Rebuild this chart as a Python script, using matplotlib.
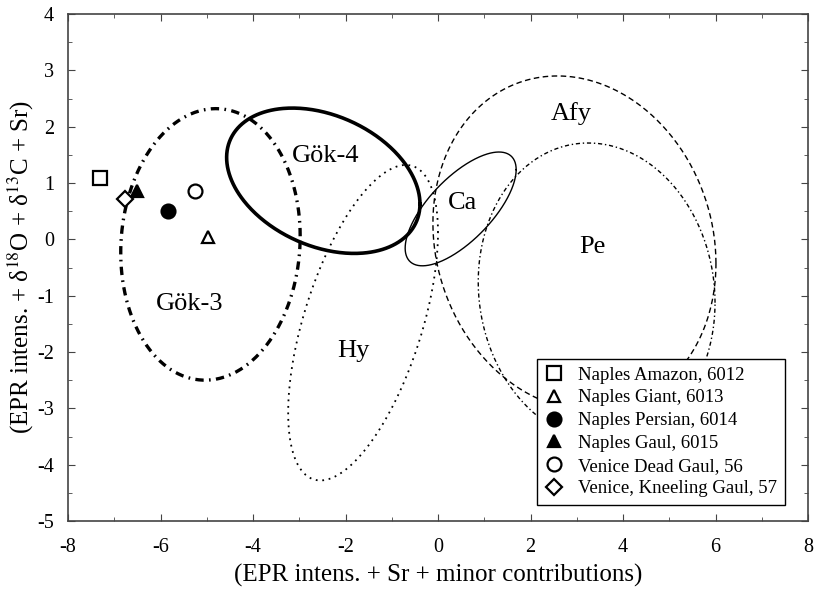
import numpy as np
import matplotlib
matplotlib.use('Agg')
import matplotlib.pyplot as plt
from matplotlib.ticker import MultipleLocator

plt.rcParams['font.family'] = ['Liberation Serif', 'DejaVu Serif']
plt.rcParams['mathtext.fontset'] = 'stix'
plt.rcParams['axes.unicode_minus'] = False

# sample points
names = ["Naples Amazon, 6012", "Naples Giant, 6013", "Naples Persian, 6014",
         "Naples Gaul, 6015", "Venice Dead Gaul, 56", "Venice, Kneeling Gaul, 57"]
pts_x = [-7.31, -4.97, -5.84, -6.50, -5.25, -6.77]
pts_y = [1.09, 0.04, 0.50, 0.86, 0.86, 0.72]
markers = ['s', '^', 'o', '^', 'o', 'D']
filled = [False, False, True, True, False, False]
msizes = [10, 9, 10, 9, 10, 8]

# quarry fields: centre, half extents in x / y, correlation
fields = ["Gök-3", "Gök-4", "Ca", "Hy", "Afy", "Pe"]
ell_cx = [-4.92, -2.48, 0.49, -1.62, 2.95, 3.43]
ell_cy = [-0.09, 1.04, 0.54, -1.48, -0.07, -0.94]
ell_hx = [1.94, 2.09, 1.20, 1.62, 3.06, 2.56]
ell_hy = [2.41, 1.29, 1.01, 2.80, 2.97, 2.65]
ell_rho = [0.06, -0.32, 0.69, 0.57, -0.12, -0.07]

# label positions (baseline)
lab_x = [-5.37, -2.42, 0.54, -1.83, 2.89, 3.33]
lab_y = [-1.25, 1.37, 0.54, -2.09, 2.12, -0.24]

styles = [
    dict(lw=2.4, ls=(0, (2.5, 1.6, 0.5, 1.6))),
    dict(lw=2.6, ls='-'),
    dict(lw=1.0, ls='-'),
    dict(lw=1.3, ls=(0, (1, 2.6))),
    dict(lw=1.0, ls=(0, (4, 2.5))),
    dict(lw=1.0, ls=(0, (3, 2, 1, 2))),
]

fig = plt.figure(figsize=(8.14, 5.98), dpi=100)
ax = fig.add_axes([68/814, 1-521/598, 740/814, 507/598])

t = np.linspace(0, 2*np.pi, 400)
for i in range(len(fields)):
    d = np.arccos(ell_rho[i])
    x = ell_cx[i] + ell_hx[i]*np.cos(t)
    y = ell_cy[i] + ell_hy[i]*np.cos(t - d)
    ax.plot(x, y, color='black', linewidth=styles[i]['lw'], linestyle=styles[i]['ls'])
    ax.text(lab_x[i], lab_y[i], fields[i], fontsize=19, ha='center', va='baseline')

for i in range(len(names)):
    ax.plot(pts_x[i], pts_y[i], linestyle='none', marker=markers[i], markersize=msizes[i],
            markerfacecolor='black' if filled[i] else 'white', markeredgecolor='black',
            markeredgewidth=1.6, label=names[i])

ax.set_xlim(-8, 8)
ax.set_ylim(-5, 4)
ax.xaxis.set_major_locator(MultipleLocator(2))
ax.xaxis.set_minor_locator(MultipleLocator(1))
ax.yaxis.set_major_locator(MultipleLocator(1))
ax.yaxis.set_minor_locator(MultipleLocator(0.5))
ax.tick_params(which='both', direction='in', top=True, right=True, colors='#444', labelcolor='black', labelsize=14.5)
ax.tick_params(axis='x', which='major', length=5, pad=12)
ax.tick_params(axis='y', which='major', length=5, pad=10)
ax.tick_params(which='minor', length=3)
for s in ax.spines.values():
    s.set_color('#444')
    s.set_linewidth(1.2)

ax.set_xlabel('(EPR intens. + Sr + minor contributions)', fontsize=18, labelpad=5)
ax.set_ylabel(r'(EPR intens. + δ$^{18}$O + δ$^{13}$C + Sr)', fontsize=18, labelpad=1)

leg = ax.legend(loc='upper left', bbox_to_anchor=(0.634, 0.3195), borderaxespad=0,
                fontsize=13.5, frameon=True, fancybox=False, framealpha=1,
                edgecolor='black', handlelength=1.0, handletextpad=0.8,
                labelspacing=0.3, borderpad=0.4, numpoints=1)
leg.get_frame().set_linewidth(1.0)

plt.savefig('out.png', dpi=100)
